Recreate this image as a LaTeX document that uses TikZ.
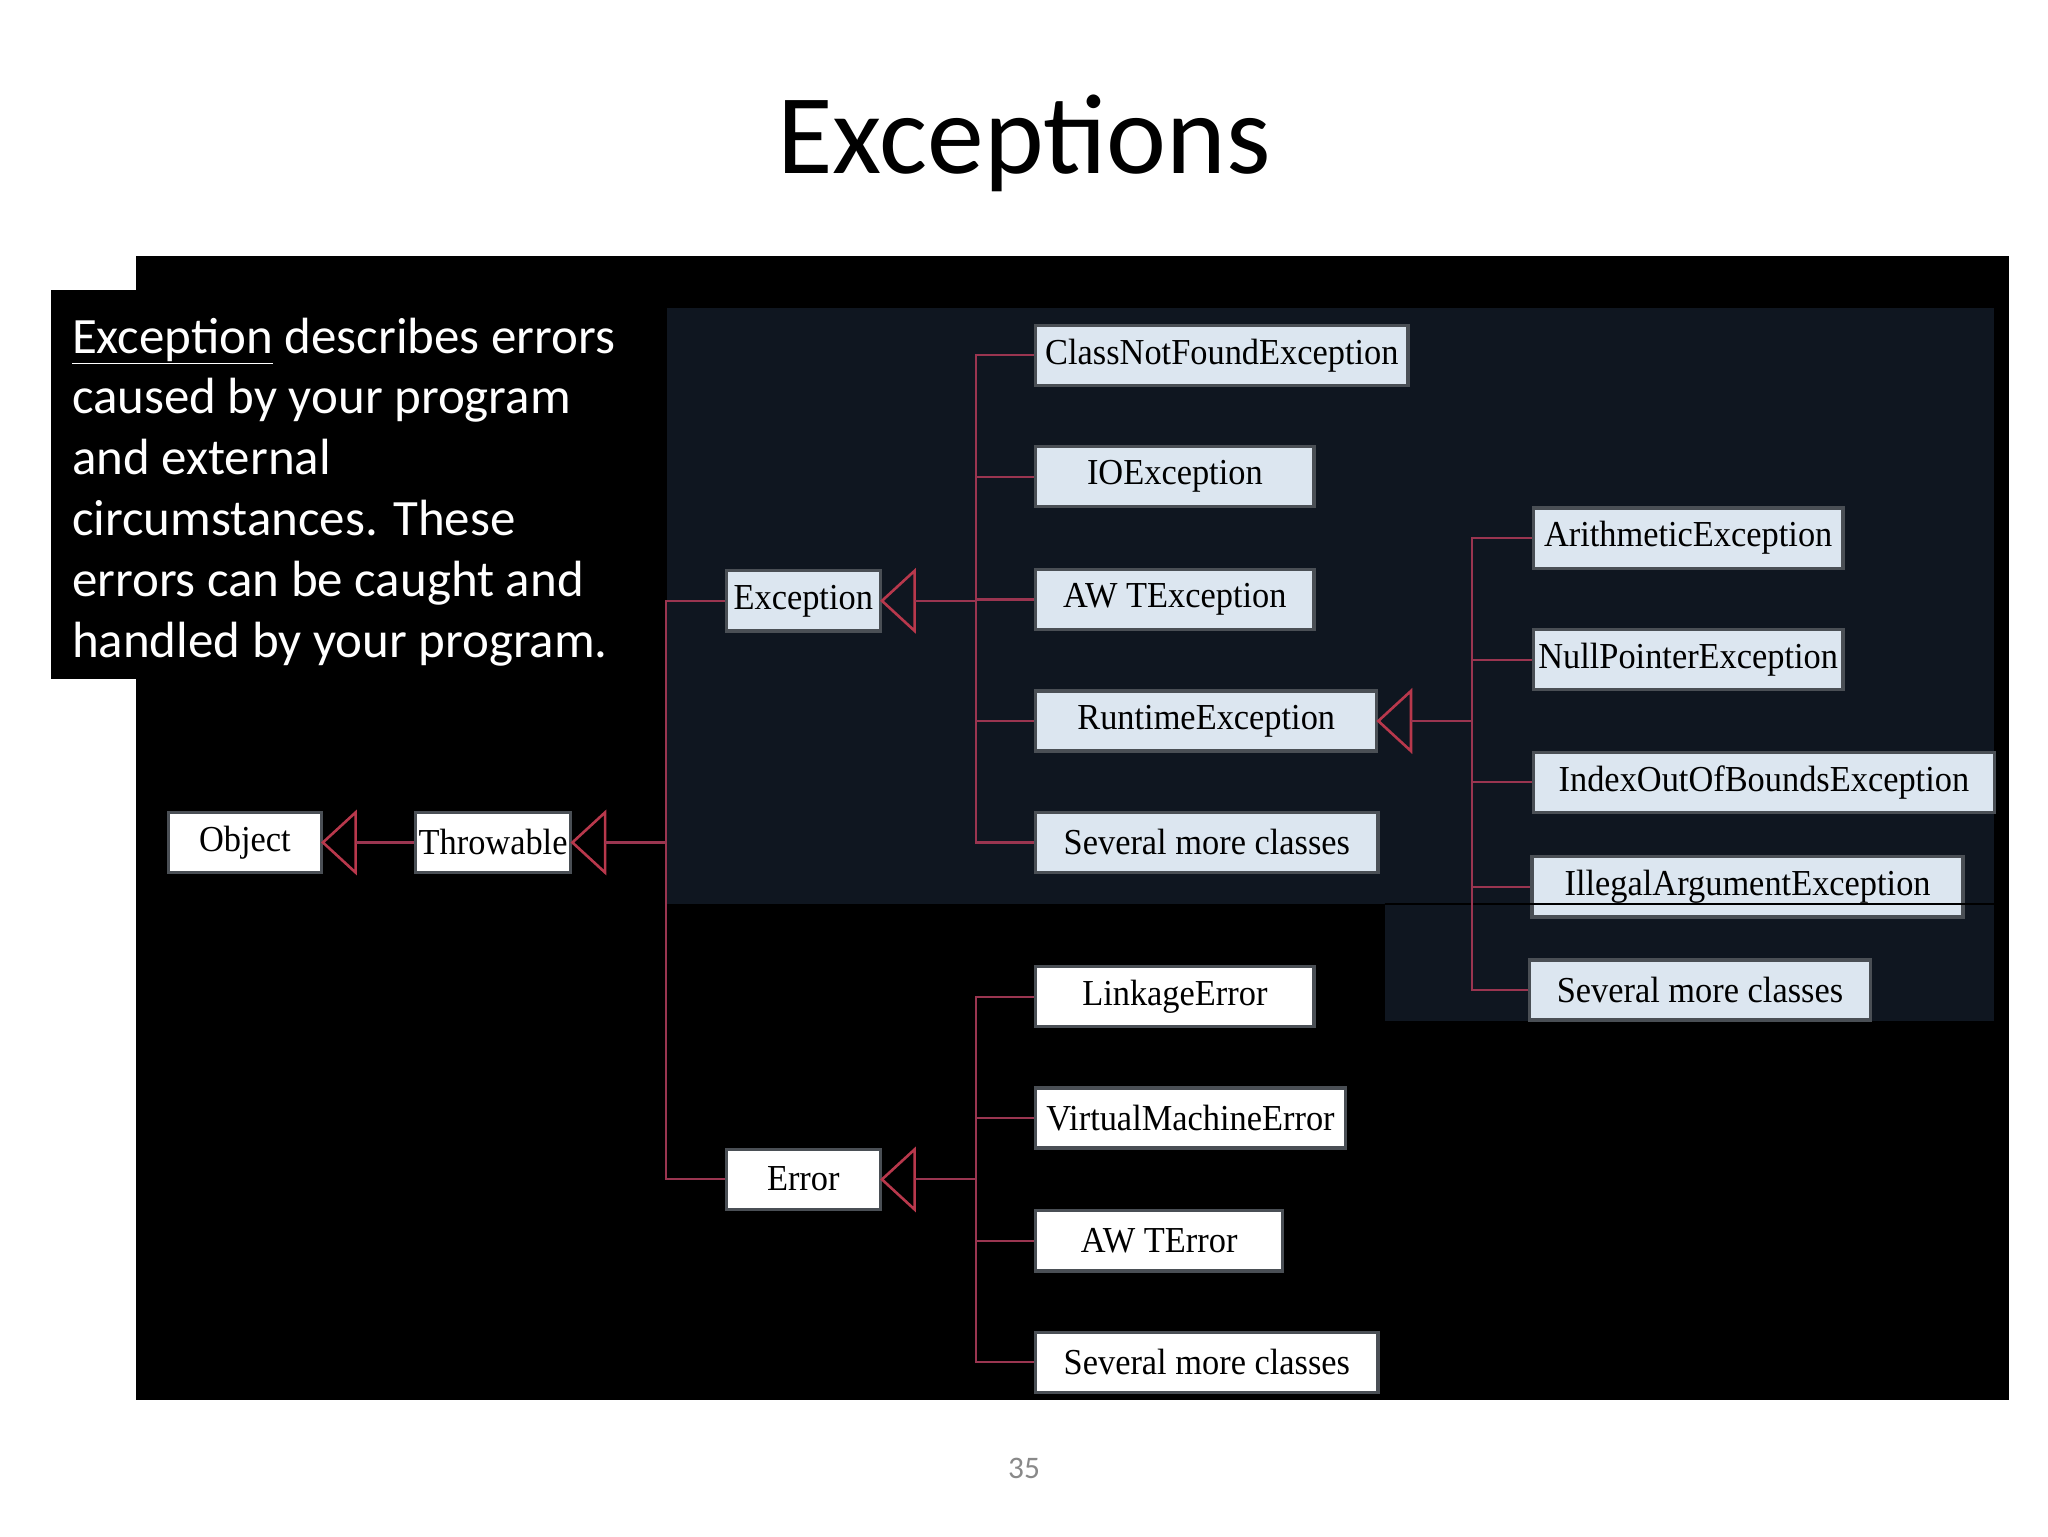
\documentclass[tikz,border=0pt]{standalone}
\usepackage{fontspec}
\usepackage{graphicx}
\setmainfont{Carlito}
\newfontfamily\serifbox{Liberation Serif}
\definecolor{navy}{HTML}{0F1620}
\definecolor{lnred}{HTML}{9A3550}
\definecolor{trired}{HTML}{B8384C}
\definecolor{boxblue}{HTML}{DCE6F0}
\definecolor{boxedge}{HTML}{4A4F55}
\definecolor{pgnum}{HTML}{898989}
\tikzset{
  cls/.style={draw=boxedge, line width=2.5pt, fill=boxblue, inner sep=0pt,
    minimum height=46pt, font=\serifbox\fontsize{28}{30}\selectfont, text=black},
  wcls/.style={cls, fill=white},
  ln/.style={draw=lnred, line width=1.6pt},
  tri/.style={draw=trired, line width=2pt},
}
\newcommand{\sqz}[1]{\raisebox{1pt}{\scalebox{0.94}[1]{#1}}}
\begin{document}
\begin{tikzpicture}[x=1pt,y=-1pt]
\useasboundingbox (0,0) rectangle (1568,1176);
\fill[white] (0,0) rectangle (1568,1176);
% title
\node[anchor=base, font=\fontsize{87}{100}\selectfont] (title) at (784,133) {Exceptions};
% backgrounds
\fill[black] (104,196) rectangle (1538,1072);
\fill[black] (39,222) rectangle (510,520);
\fill[navy] (511,236) rectangle (1527,692);
\fill[navy] (1060,692) rectangle (1527,782);
% text
\node[anchor=north west, inner sep=0pt, align=left, text=white,
  font=\fontsize{39}{46.6}\selectfont] (desc) at (55,243)
  {\underline{Exception} describes errors\\caused by your program\\and external\\circumstances. These\\errors can be caught and\\handled by your program.};
% nodes
\node[wcls, minimum width=117pt] (obj) at (187.5,645) {\sqz{Object}};
\node[wcls, minimum width=119pt] (thr) at (377.5,645) {\sqz{Throwable}};
\node[cls, minimum width=118pt] (exc) at (615,460) {\sqz{Exception}};
\node[wcls, minimum width=118pt] (err) at (615,903) {\sqz{Error}};
\node[cls, minimum width=285pt] (cnf) at (935.5,272) {\sqz{ClassNotFoundException}};
\node[cls, minimum width=213pt] (ioe) at (899.5,365) {\sqz{IOException}};
\node[cls, minimum width=213pt] (awte) at (899.5,459) {\sqz{AW TException}};
\node[cls, minimum width=261pt] (rte) at (923.5,552) {\sqz{RuntimeException}};
\node[cls, minimum width=262pt] (sme) at (924,645) {\sqz{Several more classes}};
\node[cls, minimum width=237pt] (ari) at (1292.5,412) {\sqz{ArithmeticException}};
\node[cls, minimum width=237pt] (npe) at (1292.5,505) {\sqz{NullPointerException}};
\node[cls, minimum width=353pt] (ioob) at (1350.5,599) {\sqz{IndexOutOfBoundsException}};
\node[cls, minimum width=330pt] (iae) at (1338,679) {\sqz{IllegalArgumentException}};
\node[cls, minimum width=261pt] (smr) at (1301.5,758) {\sqz{Several more classes}};
\node[wcls, minimum width=213pt] (lnk) at (899.5,763) {\sqz{LinkageError}};
\node[wcls, minimum width=237pt] (vme) at (911.5,856) {\sqz{VirtualMachineError}};
\node[wcls, minimum width=189pt] (awerr) at (887.5,950) {\sqz{AW TError}};
\node[wcls, minimum width=262pt] (smerr) at (924,1043) {\sqz{Several more classes}};
% thin black line across the panel
\coordinate (bl1) at (1060,692);
\coordinate (bl2) at (1527,692);
\draw[black, line width=1.5pt] (bl1) -- (bl2);
% junctions
\coordinate (jT) at (510,645);
\coordinate (jE) at (747,460);
\coordinate (jR) at (1127,552);
\coordinate (jErr) at (747,903);
% triangles and stems
\foreach \n in {obj, thr, exc, rte, err}{
  \draw[tri] (\n.east) -- ++(25,-23) -- ++(0,46) -- cycle;
}
\draw[ln] ([xshift=25pt]obj.east) -- (thr.west);
\draw[ln] ([xshift=25pt]thr.east) -- (jT);
\draw[ln] (exc.west) -| (jT);
\draw[ln] (err.west) -| (jT);
\draw[ln] ([xshift=25pt]exc.east) -- (jE);
\foreach \c in {cnf,ioe,awte,rte,sme}{ \draw[ln] (\c.west) -| (jE); }
\draw[ln] ([xshift=25pt]rte.east) -- (jR);
\foreach \c in {ari,npe,ioob,iae,smr}{ \draw[ln] (\c.west) -| (jR); }
\draw[ln] ([xshift=25pt]err.east) -- (jErr);
\foreach \c in {lnk,vme,awerr,smerr}{ \draw[ln] (\c.west) -| (jErr); }
% page number
\node[anchor=base, text=pgnum, font=\fontsize{24}{28}\selectfont] (pg) at (784,1132) {35};
\end{tikzpicture}
\end{document}
